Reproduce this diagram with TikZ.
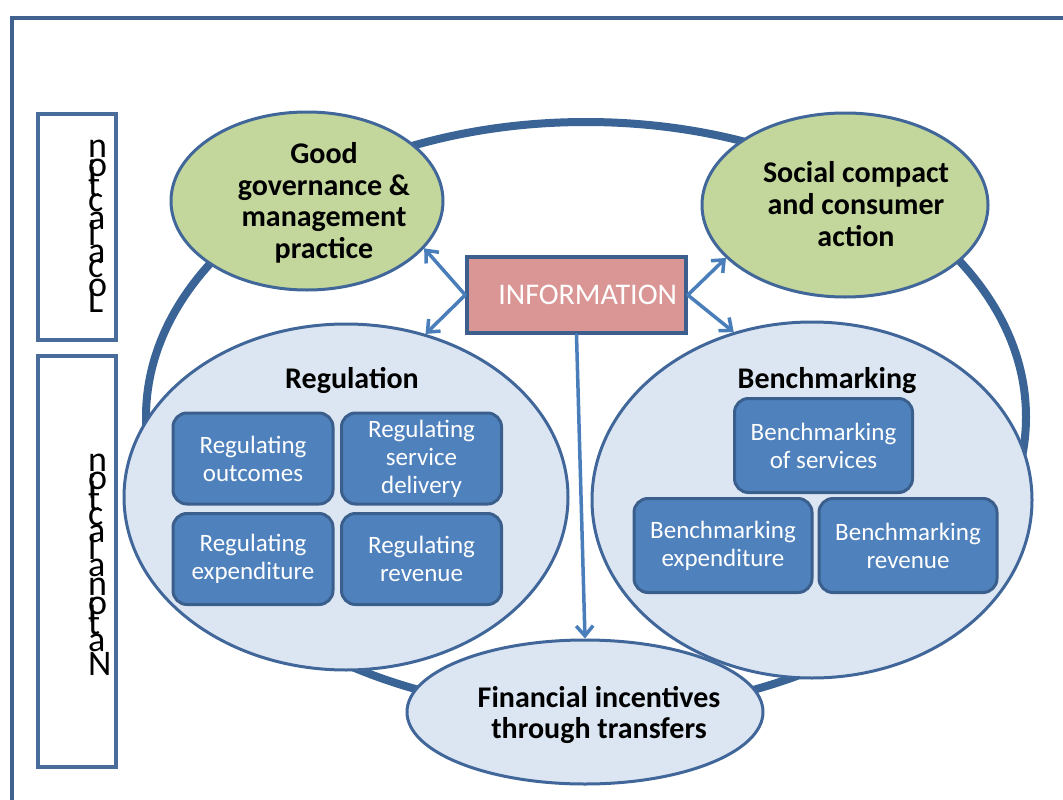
\documentclass[tikz,border=0pt]{standalone}
\usepackage{fontspec}
\setmainfont{Carlito}
\usetikzlibrary{shapes.geometric,arrows.meta}

\definecolor{framecol}{HTML}{41628F}
\definecolor{sidecol}{HTML}{4A6C9B}
\definecolor{ringcol}{HTML}{3A6396}
\definecolor{ovalline}{HTML}{41679A}
\definecolor{ovalgreen}{HTML}{C3D69B}
\definecolor{ovalblue}{HTML}{DCE6F2}
\definecolor{tilefill}{HTML}{4F81BD}
\definecolor{tileline}{HTML}{3B5F8C}
\definecolor{infofill}{HTML}{D99694}
\definecolor{infoline}{HTML}{3C5F8E}
\definecolor{arrowcol}{HTML}{4A7EBB}

\begin{document}
\begin{tikzpicture}[x=1pt,y=-1pt,
  oval/.style={ellipse, draw=ovalline, line width=3pt, inner sep=0pt},
  greenoval/.style={oval, fill=ovalgreen},
  blueoval/.style={oval, fill=ovalblue},
  title/.style={font=\fontsize{30}{31.6}\selectfont\bfseries, align=center, inner sep=0pt},
  tile/.style={rectangle, rounded corners=14pt, draw=tileline, fill=tilefill,
    line width=3pt, text=white, font=\fontsize{25}{28}\selectfont,
    align=center, inner sep=0pt},
  link/.style={draw=arrowcol, line width=3.5pt, line cap=round,
    -{Straight Barb[length=10pt,width=17pt]}},
  vletter/.style={anchor=base west, inner sep=0pt, font=\fontsize{36}{36}\selectfont},
  sidebox/.style={rectangle, draw=sidecol, line width=3.5pt, inner sep=0pt}
]
\useasboundingbox (0,0) rectangle (1063,800);
\clip (0,0) rectangle (1063,800);

% outer frame
\draw[framecol, line width=3.5pt] (12,18) rectangle (1090,830);

% side labels
\node[sidebox, minimum width=78pt, minimum height=226pt] (localbox) at (77,227) {};
\node[sidebox, minimum width=78pt, minimum height=411pt] (natbox) at (77,561.5) {};
\foreach \ch/\yy [count=\k] in {L/312, o/296.9, c/277.9, a/262.7, l/245.4,
    a/229.1, c/211.8, t/196.6, i/184.5, o/176.3, n/157.3}
  \node[vletter] (loc\k) at (88,\yy) {\ch};
\foreach \ch/\yy [count=\k] in {N/675, a/651.7, t/634.5, i/622.4, o/614.2,
    n/595.2, a/576.3, l/559.1, a/542.7, c/525.5, t/510.2, i/498.2, o/489.9, n/471}
  \node[vletter] (nat\k) at (88,\yy) {\ch};

% the cycle ring
\node[ellipse, draw=ringcol, line width=8pt, inner sep=0pt,
  minimum width=880pt, minimum height=590pt] (ring) at (586,417) {};

% ovals
\node[greenoval, minimum width=272pt, minimum height=178pt] (gg) at (307,201) {};
\node[greenoval, minimum width=286pt, minimum height=184pt] (soc) at (845,205) {};
\node[blueoval, minimum width=444pt, minimum height=346pt] (reg) at (346,497) {};
\node[blueoval, minimum width=440pt, minimum height=356pt] (bench) at (812,500) {};
\node[blueoval, minimum width=356pt, minimum height=144pt] (fin) at (585,712) {};

% oval captions
\node[title] (ggtext) at (324,203) {Good\\governance \&\\management\\practice};
\node[title] (soctext) at (856,204) {Social compact\\and consumer\\action};
\node[title] (fintext) at (599,715) {Financial incentives\\through transfers};
\node[title, anchor=base] (regtext) at (352,388) {Regulation};
\node[title, anchor=base] (benchtext) at (827,388) {Benchmarking};

% regulation tiles
\node[tile, minimum width=160pt, minimum height=91pt] (ro) at (253,458.5) {Regulating\\outcomes};
\node[tile, minimum width=160pt, minimum height=91pt] (rsd) at (421.5,458.5) {Regulating\\service\\delivery};
\node[tile, minimum width=160pt, minimum height=91pt] (rex) at (253,559) {Regulating\\expenditure};
\node[tile, minimum width=160pt, minimum height=91pt] (rrev) at (421.5,559) {Regulating\\revenue};

% benchmarking tiles
\node[tile, minimum width=178pt, minimum height=94pt] (bs) at (823.5,445.5) {Benchmarking\\of services};
\node[tile, minimum width=178pt, minimum height=94pt] (bex) at (723,545.5) {Benchmarking\\expenditure};
\node[tile, minimum width=178pt, minimum height=94pt] (brev) at (908,545.5) {Benchmarking\\revenue};

% information hub
\node[rectangle, draw=infoline, fill=infofill, line width=3.5pt, text=white,
  font=\fontsize{30}{32}\selectfont, text width=201pt, align=right,
  inner xsep=9pt, inner ysep=0pt, minimum height=76pt] (info) at (576.5,295) {INFORMATION};

% information flows
\draw[link] (info.west) -- (gg.-22);
\draw[link] (info.west) -- (reg.64);
\draw[link] (info.east) -- (soc.204);
\draw[link] (info.east) -- (bench.115);
\draw[link] (info.south) -- (fin.north);
\end{tikzpicture}
\end{document}
